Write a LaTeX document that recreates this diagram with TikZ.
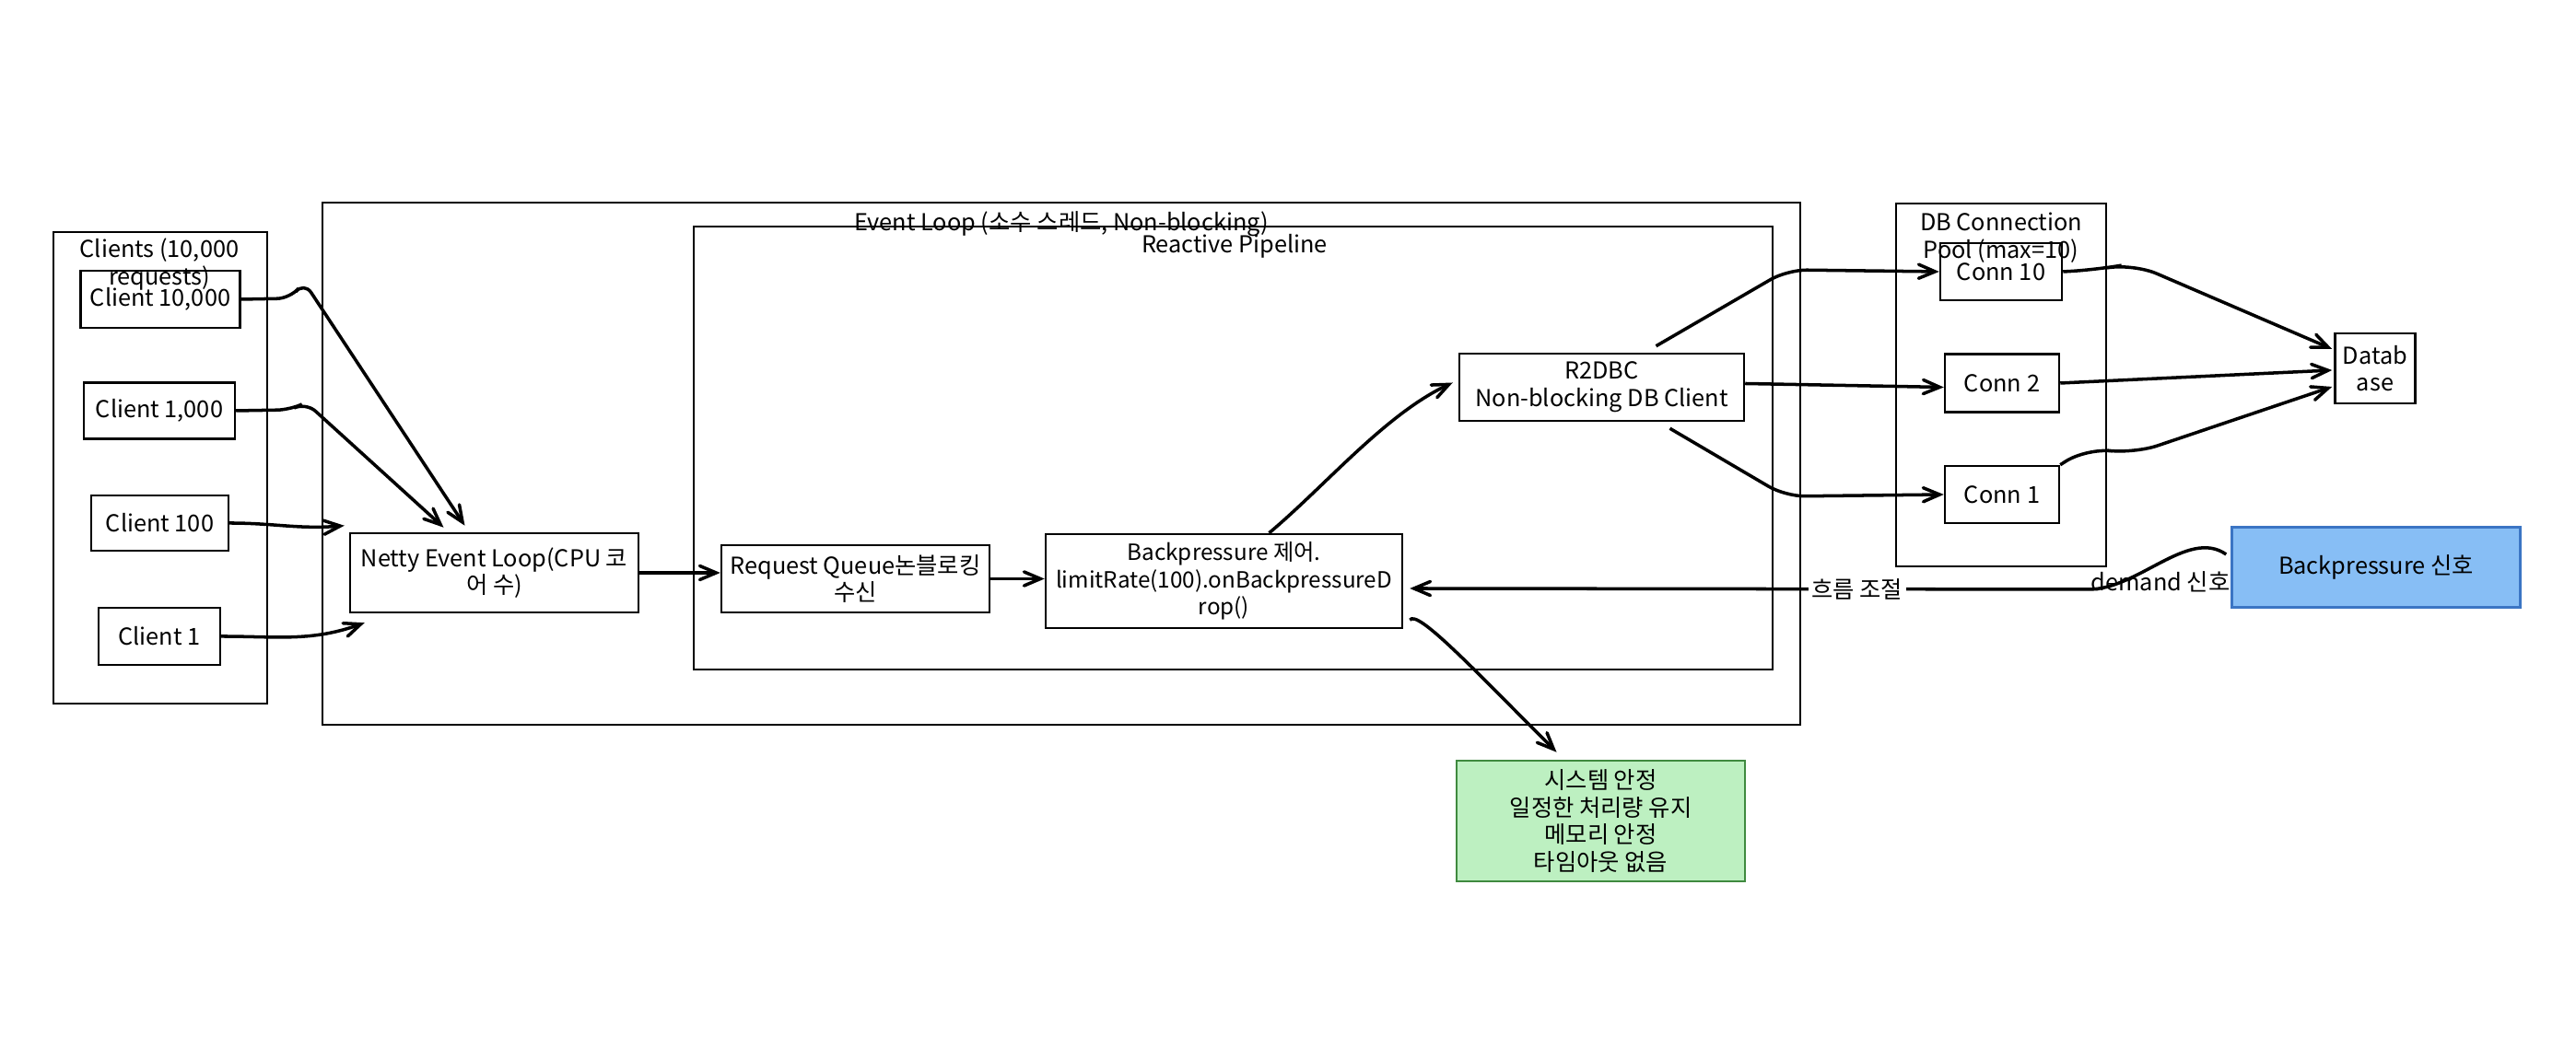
\documentclass[tikz,border=0pt]{standalone}
\usepackage{fontspec}
\setmainfont{Noto Sans CJK KR}
\usepackage{tikz}
\usetikzlibrary{arrows}

\definecolor{sigblue}{HTML}{87BEF5}
\definecolor{sigblueline}{HTML}{3B75C4}
\definecolor{okgreen}{HTML}{BDF0C1}
\definecolor{okgreenline}{HTML}{3F8A3F}

\begin{document}
\begin{tikzpicture}[
    font=\fontsize{7.2}{8.4}\selectfont,
    >=angle 45,
    box/.style={draw, line width=0.7pt, align=center, inner sep=1pt},
    frame/.style={draw, line width=0.7pt},
    flow/.style={->, line width=1pt},
]
\useasboundingbox (0,0) rectangle (27.96,11.38);

% frames
\draw[frame] (0.58, 3.74) rectangle (2.90, 8.86);
\draw[frame] (3.50, 3.51) rectangle (19.54, 9.18);
\draw[frame] (7.53, 4.11) rectangle (19.24, 8.92);
\draw[frame] (20.58, 5.23) rectangle (22.86, 9.17);

% boxes
\node[box, minimum width=1.73cm, minimum height=0.62cm] (c10k) at (1.74, 8.13) {Client 10,000};
\node[box, minimum width=1.64cm, minimum height=0.61cm] (c1k) at (1.73, 6.92) {Client 1,000};
\node[box, minimum width=1.49cm, minimum height=0.60cm] (c100) at (1.735, 5.70) {Client 100};
\node[box, minimum width=1.32cm, minimum height=0.62cm] (c1) at (1.73, 4.47) {Client 1};

\node[box, minimum width=3.13cm, minimum height=0.86cm] (netty) at (5.365, 5.16) {Netty Event Loop(CPU 코\\어 수)};
\node[box, minimum width=2.91cm, minimum height=0.73cm] (queue) at (9.285, 5.095) {Request Queue논블로킹\\수신};
\node[box, minimum width=3.87cm, minimum height=1.02cm, font=\fontsize{6.9}{8.4}\selectfont] (bpctl) at (13.285, 5.07) {Backpressure 제어.\\limitRate(100).onBackpressureD\\rop()};
\node[box, minimum width=3.09cm, minimum height=0.73cm] (r2dbc) at (17.385, 7.175) {R2DBC\\Non-blocking DB Client};

\node[box, minimum width=1.32cm, minimum height=0.62cm] (conn10) at (21.72, 8.43) {Conn 10};
\node[box, minimum width=1.24cm, minimum height=0.63cm] (conn2) at (21.73, 7.22) {Conn 2};
\node[box, minimum width=1.24cm, minimum height=0.62cm] (conn1) at (21.73, 6.01) {Conn 1};
\node[box, minimum width=0.87cm, minimum height=0.76cm] (db) at (25.78, 7.38) {Datab\\ase};

\node[box, fill=sigblue, draw=sigblueline, minimum width=3.13cm, minimum height=0.87cm] (signal) at (25.79, 5.22) {Backpressure 신호};
\node[box, fill=okgreen, draw=okgreenline, minimum width=3.13cm, minimum height=1.31cm] (stable) at (17.375, 2.465) {시스템 안정\\일정한 처리량 유지\\메모리 안정\\타임아웃 없음};

% titles
\node[align=center] (tclients) at (1.73, 8.51) {Clients (10,000\\requests)};
\node (tloop) at (11.52, 8.95) {Event Loop (소수 스레드, Non-blocking)};
\node (tpipe) at (13.40, 8.71) {Reactive Pipeline};
\node[align=center] (tpool) at (21.72, 8.80) {DB Connection\\Pool (max=10)};

% clients -> netty
\draw[flow, rounded corners=4pt] (c10k.east) -- (3.15, 8.14) -- (3.30, 8.32) -- ([xshift=-0.32cm, yshift=0.07cm]netty.north);
\draw[flow, rounded corners=4pt] (c1k.east) -- (3.15, 6.93) -- (3.32, 7.01) -- ([xshift=-0.55cm, yshift=0.05cm]netty.north);
\draw[flow] (c100.east) to[out=0, in=185] ([xshift=-0.05cm, yshift=0.07cm]netty.north west);
\draw[flow] (c1.east) to[out=0, in=200] ([xshift=0.17cm, yshift=-0.10cm]netty.south west);

% pipeline
\draw[flow] (netty.east) -- (netty.east -| queue.west);
\draw[flow] (queue.east) -- (queue.east -| bpctl.west);
\draw[flow] ([xshift=0.49cm]bpctl.north) to[out=40, in=205, looseness=0.8] ([xshift=-0.06cm, yshift=0.05cm]r2dbc.west);

% r2dbc -> pool
\draw[flow, rounded corners=6pt] ([xshift=0.59cm, yshift=0.07cm]r2dbc.north) -- (19.40, 8.45) -- (conn10.west);
\draw[flow] ([yshift=0.04cm]r2dbc.east) -- (r2dbc.east -| conn2.west);
\draw[flow, rounded corners=6pt] ([xshift=0.74cm, yshift=-0.07cm]r2dbc.south) -- (19.38, 5.99) -- (conn1.west);

% pool -> database
\draw[flow, rounded corners=8pt] (conn10.east) -- (22.75, 8.45) -- (23.15, 8.52) -- ([xshift=-0.02cm, yshift=0.21cm]db.west);
\draw[flow] (conn2.east) -- ([xshift=-0.02cm, yshift=-0.02cm]db.west);
\draw[flow, rounded corners=8pt] (conn1.north east) -- (22.65, 6.52) -- (23.15, 6.45) -- ([xshift=-0.02cm, yshift=-0.20cm]db.west);

% backpressure signal
\coordinate (bend) at (22.66, 4.98);
\draw[flow] ([xshift=-0.05cm, yshift=0.14cm]signal.west) .. controls (23.75, 5.65) and (23.2, 4.97) .. (bend)
    -- ([xshift=0.07cm, yshift=-0.08cm]bpctl.east) node[pos=0.34, fill=white, inner sep=1pt] (lflow) {흐름 조절};
\node (ldemand) at (23.45, 5.06) {demand 신호};

% result
\draw[flow] ([xshift=0.07cm, yshift=0.10cm]bpctl.south east) .. controls +(0.08, 0.12) and +(-0.9, 0.9) .. ([xshift=-0.48cm, yshift=0.08cm]stable.north);

\end{tikzpicture}
\end{document}
